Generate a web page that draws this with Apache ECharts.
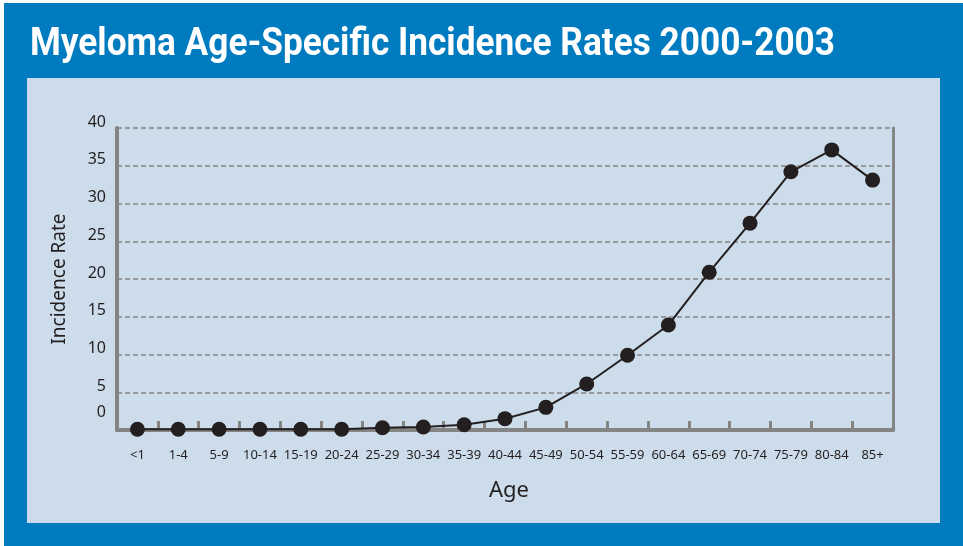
<!DOCTYPE html>
<html>
<head>
<meta charset="utf-8">
<script src="https://cdn.jsdelivr.net/npm/echarts@6/dist/echarts.min.js"></script>
<style>
  html, body { margin: 0; padding: 0; background: #ffffff; }
  #chart { width: 963px; height: 546px; }
</style>
</head>
<body>
<div id="chart"></div>
<script>
// Age groups and age-specific incidence rates (per 100,000)
const ageGroups = ['<1', '1-4', '5-9', '10-14', '15-19', '20-24', '25-29', '30-34', '35-39',
  '40-44', '45-49', '50-54', '55-59', '60-64', '65-69', '70-74', '75-79', '80-84', '85+'];
const incidenceRates = [0.1, 0.1, 0.1, 0.1, 0.1, 0.1, 0.3, 0.4, 0.7,
  1.5, 3.0, 6.1, 9.9, 13.9, 20.9, 27.4, 34.2, 37.1, 33.1];
const yMin = 0;
const yMax = 40;
const yStep = 5;

const titleText = 'Myeloma Age-Specific Incidence Rates 2000-2003';
const yAxisTitle = 'Incidence Rate';
const xAxisTitle = 'Age';

const ink = '#231f20';
const axisGray = '#848484';
const labelFont = '"Noto Sans", "Open Sans", sans-serif';
const titleFont = 'bold 38px Roboto, "Noto Sans", sans-serif';

// squeeze the bold title into a condensed look of a set width
const titleWidth = 805;
const measureCtx = document.createElement('canvas').getContext('2d');
measureCtx.font = titleFont;
const titleScaleX = titleWidth / measureCtx.measureText(titleText).width;

const chart = echarts.init(document.getElementById('chart'), null, { renderer: 'canvas' });

chart.setOption({
  backgroundColor: '#ffffff',
  animation: false,
  graphic: [
    { type: 'rect', z: -10, silent: true,
      shape: { x: 4, y: 3, width: 959, height: 543 },
      style: { fill: '#007bc0' } },
    { type: 'rect', z: -9, silent: true,
      shape: { x: 27, y: 78, width: 913, height: 445 },
      style: { fill: '#ccdcea' } },
    { type: 'text', x: 30, y: 26, scaleX: titleScaleX, silent: true,
      style: { text: titleText, fill: '#ffffff', font: titleFont } },
    { type: 'text', left: 489, top: 480, silent: true,
      style: { text: xAxisTitle, fill: ink, font: '22px ' + labelFont } }
  ],
  grid: { left: 117, right: 70, top: 128, bottom: 116, containLabel: false },
  xAxis: {
    type: 'category',
    data: ageGroups,
    boundaryGap: true,
    axisLine: { lineStyle: { color: axisGray, width: 4 } },
    axisTick: { show: true, inside: true, length: 9, interval: 0,
      lineStyle: { color: axisGray, width: 3 } },
    axisLabel: { interval: 0, margin: 19, color: ink, fontSize: 13, fontFamily: labelFont },
    splitLine: { show: false }
  },
  yAxis: [
    {
      type: 'value', min: yMin, max: yMax, interval: yStep, position: 'left',
      name: yAxisTitle, nameLocation: 'middle', nameGap: 48, nameRotate: 90,
      nameTextStyle: { color: ink, fontSize: 19, fontFamily: labelFont },
      axisLine: { show: true, lineStyle: { color: axisGray, width: 4 } },
      axisTick: { show: false },
      axisLabel: {
        color: ink, fontSize: 16, fontFamily: labelFont, margin: 11,
        verticalAlign: 'bottom', lineHeight: 12,
        formatter: v => (v === 0 ? '' : String(v))
      },
      splitLine: { show: true, lineStyle: { color: axisGray, width: 1.5, type: [5, 3] } }
    },
    {
      // carries only the zero label, set a little higher than the rest
      type: 'value', min: yMin, max: yMax, interval: yStep, position: 'left',
      axisLine: { show: false }, axisTick: { show: false }, splitLine: { show: false },
      axisLabel: {
        color: ink, fontSize: 16, fontFamily: labelFont, margin: 11,
        verticalAlign: 'bottom', lineHeight: 35,
        formatter: v => (v === 0 ? '0' : '')
      }
    },
    {
      // right frame line
      type: 'value', min: yMin, max: yMax, interval: yStep, position: 'right',
      axisLine: { show: true, lineStyle: { color: axisGray, width: 3 } },
      axisTick: { show: false }, axisLabel: { show: false }, splitLine: { show: false }
    }
  ],
  series: [{
    type: 'line',
    data: incidenceRates,
    yAxisIndex: 0,
    symbol: 'circle',
    symbolSize: 15,
    showSymbol: true,
    z: 5,
    itemStyle: { color: ink },
    lineStyle: { color: ink, width: 2 }
  }]
});
</script>
</body>
</html>
